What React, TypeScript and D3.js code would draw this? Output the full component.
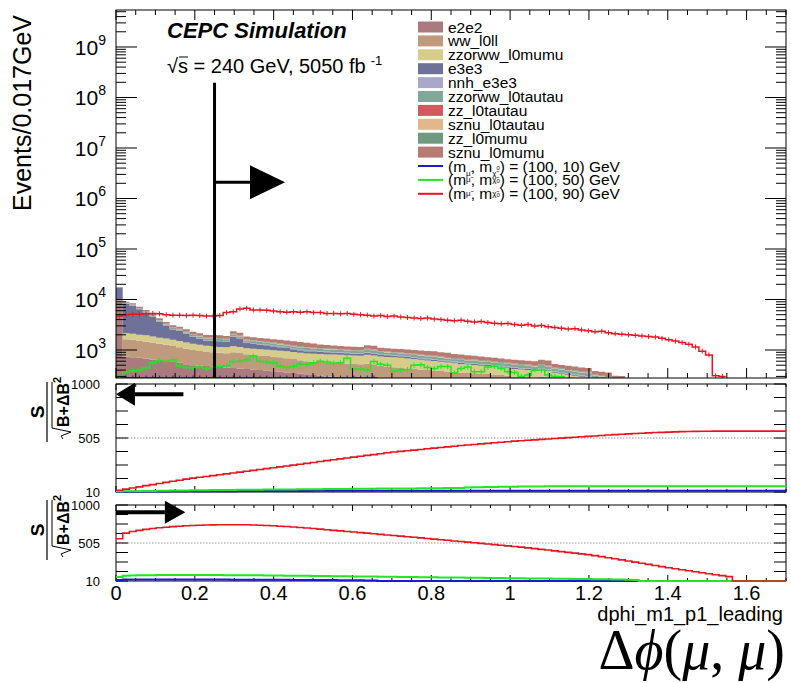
import React from 'react';
import * as d3 from 'd3';

// ---------------- data ----------------
const BIN_WIDTH = 0.017;
const NBINS = 100;
const X_MAX = 1.7;

const bgNames = ['e2e2', 'ww_l0ll', 'zzorww_l0mumu', 'e3e3', 'nnh_e3e3', 'zzorww_l0tautau', 'zz_l0tautau', 'sznu_l0tautau', 'zz_l0mumu', 'sznu_l0mumu'];
const bgColors = ['#a97a7e', '#c09a7c', '#d6cc8c', '#6e7198', '#a9a8c9', '#7fa89a', '#d15a5f', '#e0b889', '#6f9a80', '#b87b71'];

const e2e2 = [8500, 740, 720, 700, 680, 650, 620, 600, 580, 560, 520, 500, 490, 480, 470, 460, 450, 440, 430, 420, 410, 400, 390, 380, 370, 360, 350, 340, 330, 320, 310, 300, 295, 290, 285, 280, 270, 265, 260, 255, 250, 245, 240, 235, 230, 225, 220, 215, 210, 205, 200, 195, 190, 185, 180, 175, 172, 170, 165, 160, 155, 150, 148, 145, 140, 135, 130, 125, 120, 115, 110, 105, 100, 95, 90, 85];
const ww_l0ll = [700, 890, 880, 800, 770, 750, 710, 670, 620, 570, 540, 500, 470, 450, 430, 420, 410, 460, 440, 400, 390, 380, 370, 360, 350, 330, 310, 290, 270, 270, 270, 270, 265, 260, 255, 250, 250, 275, 260, 235, 220, 210, 200, 195, 190, 185, 180, 180, 175, 170, 165, 160, 160, 160, 160, 160, 156, 150, 145, 140, 140, 140, 132, 155, 150, 130, 120, 120, 115, 110, 110, 90, 90, 90, 70, 65];
const zzorww_l0mumu = [300, 510, 500, 500, 500, 450, 420, 410, 400, 370, 340, 330, 310, 290, 280, 270, 270, 290, 280, 260, 260, 260, 255, 250, 250, 250, 250, 250, 250, 255, 250, 245, 250, 255, 250, 245, 250, 265, 260, 255, 255, 260, 260, 250, 240, 230, 220, 210, 200, 190, 180, 170, 165, 160, 150, 145, 140, 130, 125, 120, 115, 110, 105, 110, 100, 90, 85, 80, 75, 70, 70, 60, 60, 55, 50, 45];
const e3e3 = [7500, 5990, 5450, 4400, 3500, 2750, 1850, 1320, 940, 870, 670, 490, 400, 300, 340, 340, 310, 630, 540, 310, 280, 250, 225, 200, 170, 150, 130, 110, 100, 95, 90, 85, 80, 78, 75, 72, 70, 75, 72, 65, 60, 55, 50, 45, 42, 40, 38, 36, 34, 32, 30, 29, 28, 27, 26, 25, 24, 23, 22, 21, 20, 19, 18, 18, 17, 15, 12, 11, 10, 9, 8, 6, 5, 4, 3, 2];
const nnh_e3e3 = [40, 45, 42, 40, 38, 36, 34, 32, 30, 29, 28, 27, 27, 26, 26, 26, 25, 30, 28, 25, 25, 24, 24, 23, 23, 22, 22, 22, 21, 21, 20, 20, 20, 19, 19, 19, 18, 20, 19, 18, 17, 17, 17, 16, 16, 16, 15, 15, 15, 14, 14, 14, 13, 13, 13, 12, 12, 12, 11, 11, 11, 10, 10, 11, 10, 9, 9, 8, 8, 8, 7, 7, 6, 6, 5, 5];
const zzorww_l0tautau = [200, 250, 240, 225, 210, 195, 180, 165, 155, 145, 140, 135, 130, 128, 128, 128, 125, 145, 138, 125, 123, 120, 118, 117, 116, 115, 114, 113, 120, 112, 105, 100, 98, 95, 92, 90, 88, 100, 98, 85, 86, 85, 85, 82, 80, 78, 76, 74, 72, 70, 68, 66, 65, 64, 63, 62, 61, 60, 58, 57, 56, 55, 54, 58, 56, 52, 50, 48, 46, 44, 42, 38, 36, 34, 32, 30];
const zz_l0tautau = [20, 25, 24, 22, 20, 19, 18, 17, 16, 15, 14, 14, 13, 13, 13, 13, 12, 14, 13, 12, 12, 12, 11, 11, 11, 11, 10, 10, 10, 10, 10, 9, 9, 9, 9, 9, 9, 10, 9, 8, 8, 8, 8, 8, 7, 7, 7, 7, 7, 6, 6, 6, 6, 6, 6, 6, 5, 5, 5, 5, 5, 5, 5, 5, 5, 5, 5, 4, 4, 4, 4, 3, 3, 3, 3, 3];
const sznu_l0tautau = [30, 40, 38, 36, 34, 32, 30, 28, 26, 25, 24, 23, 22, 22, 22, 22, 21, 24, 23, 21, 21, 20, 20, 19, 19, 19, 18, 18, 15, 15, 15, 14, 14, 14, 14, 13, 13, 14, 14, 12, 12, 12, 12, 12, 12, 11, 11, 11, 11, 11, 10, 10, 10, 10, 10, 10, 10, 10, 9, 9, 9, 9, 9, 9, 9, 8, 8, 8, 7, 7, 7, 6, 6, 6, 5, 5];
const zz_l0mumu = [70, 90, 86, 82, 78, 74, 70, 66, 62, 58, 56, 54, 52, 50, 50, 50, 48, 55, 52, 48, 47, 46, 45, 44, 43, 42, 41, 40, 30, 30, 29, 29, 28, 28, 27, 27, 26, 30, 28, 25, 25, 25, 25, 24, 24, 23, 23, 22, 22, 22, 21, 21, 20, 20, 20, 20, 20, 20, 19, 19, 18, 18, 18, 19, 18, 16, 15, 15, 14, 14, 13, 12, 12, 11, 10, 10];
const sznu_l0mumu = [300, 450, 420, 395, 370, 345, 320, 290, 270, 260, 240, 230, 225, 220, 220, 220, 230, 250, 240, 225, 225, 225, 225, 230, 235, 240, 245, 250, 250, 220, 180, 178, 170, 155, 145, 155, 155, 185, 190, 145, 145, 143, 150, 160, 155, 165, 170, 170, 155, 160, 135, 140, 130, 125, 115, 105, 105, 100, 100, 98, 100, 100, 100, 110, 115, 70, 70, 70, 70, 70, 70, 55, 52, 55, 42, 55];
const bgSeries = [e2e2, ww_l0ll, zzorww_l0mumu, e3e3, nnh_e3e3, zzorww_l0tautau, zz_l0tautau, sznu_l0tautau, zz_l0mumu, sznu_l0mumu];

// signals (main panel)
const sigBlue = [230, 240, 235, 230, 228, 225, 222, 220, 218, 215, 212, 210, 208, 205, 202, 200, 198, 195, 192, 190, 188, 185, 182, 180, 178, 175, 172, 170, 168, 165, 162, 160, 158, 155, 152, 150, 148, 145, 140];
const sigGreen = [300, 370, 390, 400, 440, 560, 620, 600, 640, 480, 450, 440, 460, 430, 450, 470, 490, 590, 600, 640, 760, 600, 580, 560, 480, 450, 470, 530, 520, 560, 600, 580, 550, 560, 690, 420, 420, 400, 590, 520, 500, 380, 400, 410, 500, 510, 450, 430, 470, 470, 350, 430, 460, 370, 370, 460, 470, 430, 370, 360, 300, 320, 400, 400, 320, 300, 295];
const sigRed = [4700, 5000, 5100, 5100, 5200, 5300, 5200, 5000, 4900, 4900, 4800, 4900, 4800, 4700, 4700, 4800, 5500, 5700, 6500, 6700, 6200, 6200, 6100, 5900, 5700, 5600, 5700, 5600, 5700, 5500, 5500, 5300, 5300, 5200, 5300, 5100, 5000, 4900, 4700, 4800, 4600, 4700, 4500, 4400, 4300, 4200, 4300, 4100, 4000, 3900, 3800, 3900, 3700, 3600, 3650, 3500, 3400, 3300, 3350, 3200, 3100, 3200, 3000, 3050, 2900, 2800, 2700, 2600, 2650, 2500, 2400, 2300, 2350, 2200, 2100, 2050, 2000, 1950, 1900, 1850, 1800, 1700, 1600, 1500, 1400, 1300, 1150, 950, 800, 310, 300];
const sigColors = ['#1a1ad0', '#22e622', '#e8141e'];
const sigLabels = ['(100, 10) GeV', '(100, 50) GeV', '(100, 90) GeV'];

// significance, cut "x < value" (middle panel)
const sigLeftRed = [26, 36, 47, 57, 68, 78, 88, 98, 108, 118, 128, 137, 145, 152, 160, 168, 176, 184, 192, 200, 208, 216, 224, 232, 240, 248, 256, 264, 272, 280, 290, 298, 306, 314, 322, 330, 338, 346, 353, 360, 370, 376, 382, 388, 394, 400, 406, 412, 418, 424, 430, 436, 441, 446, 451, 456, 461, 466, 471, 476, 480, 484, 488, 492, 496, 500, 504, 508, 512, 516, 520, 524, 528, 532, 536, 540, 543, 546, 549, 552, 555, 557, 559, 561, 563, 565, 566, 567, 567, 568, 568, 568, 568, 568, 568, 568, 568, 568, 568, 568];
const sigLeftGreen = [14, 16, 17, 18, 19, 20, 21, 22, 23, 24, 24, 25, 26, 27, 28, 28, 29, 29, 30, 30, 31, 31, 32, 32, 33, 34, 34, 35, 35, 36, 36, 37, 37, 38, 38, 39, 39, 40, 40, 41, 41, 42, 42, 43, 43, 44, 44, 45, 45, 46, 46, 47, 52, 53, 54, 55, 56, 57, 58, 59, 60, 60, 61, 61, 62, 62, 62, 62, 63, 63, 63, 63, 63, 63, 63, 63, 63, 63, 63, 63, 63, 63, 63, 63, 63, 63, 63, 63, 63, 63, 63, 63, 63, 63, 63, 63, 63, 63, 63, 63];
const sigLeftBlue = [11, 12, 13, 13, 14, 14, 15, 15, 16, 16, 16, 17, 17, 17, 18, 18, 18, 18, 19, 19, 19, 19, 19, 20, 20, 20, 20, 20, 20, 21, 21, 21, 21, 21, 21, 21, 21, 21, 21, 21, 21, 21, 21, 21, 21, 21, 21, 21, 21, 21, 21, 21, 21, 21, 21, 21, 21, 21, 21, 21, 21, 21, 21, 21, 21, 21, 21, 21, 21, 21, 21, 21, 21, 21, 21, 21, 21, 21, 21, 21, 21, 21, 21, 21, 21, 21, 21, 21, 21, 21, 21, 21, 21, 21, 21, 21, 21, 21, 21, 21];

// significance, cut "x > value" (bottom panel)
const sigRightRed = [561, 634, 655, 670, 683, 694, 703, 711, 718, 724, 729, 733, 736, 739, 741, 742, 743, 743, 743, 742, 740, 737, 733, 729, 724, 719, 713, 707, 700, 693, 686, 678, 670, 663, 655, 648, 640, 633, 625, 618, 610, 603, 595, 587, 580, 572, 564, 556, 548, 540, 532, 524, 516, 508, 500, 492, 484, 476, 468, 460, 451, 442, 432, 422, 413, 403, 393, 383, 373, 363, 353, 340, 327, 313, 299, 285, 271, 256, 241, 226, 211, 197, 183, 170, 157, 144, 131, 118, 105, 92, 80, 67, 0, 0, 0, 0, 0, 0, 0, 0];
const sigRightGreen = [62, 80, 82, 84, 85, 86, 87, 88, 88, 88, 88, 88, 88, 88, 87, 87, 86, 86, 85, 85, 84, 84, 83, 82, 81, 80, 79, 78, 77, 76, 75, 74, 73, 72, 71, 70, 69, 68, 67, 66, 65, 64, 63, 62, 61, 60, 59, 58, 57, 56, 55, 54, 53, 52, 51, 50, 49, 48, 47, 46, 45, 44, 43, 42, 41, 40, 39, 38, 37, 36, 35, 34, 33, 32, 30, 28, 26, 24, 0, 0, 0, 0, 0, 0, 0, 0, 0, 0, 0, 0, 0, 0, 0, 0, 0, 0, 0, 0, 0, 0];
const sigRightBlue = [24, 28, 30, 31, 31, 31, 31, 31, 30, 30, 30, 29, 29, 29, 28, 28, 28, 27, 27, 27, 26, 26, 26, 25, 25, 25, 24, 24, 24, 23, 23, 22, 22, 21, 21, 20, 19, 18, 16, 0, 0, 0, 0, 0, 0, 0, 0, 0, 0, 0, 0, 0, 0, 0, 0, 0, 0, 0, 0, 0, 0, 0, 0, 0, 0, 0, 0, 0, 0, 0, 0, 0, 0, 0, 0, 0, 0, 0, 0, 0, 0, 0, 0, 0, 0, 0, 0, 0, 0, 0, 0, 0, 0, 0, 0, 0, 0, 0, 0, 0];

const xTickValues = [0, 0.2, 0.4, 0.6, 0.8, 1, 1.2, 1.4, 1.6];
const yTickExponents = [3, 4, 5, 6, 7, 8, 9];
const ratioTickLabels = [10, 505, 1000];
const CUT = 0.25;

// ---------------- layout ----------------
const W = 791, H = 683;
const L = 116, R = 786;
const MAIN = { top: 10, bottom: 378 };
const R1 = { top: 384, bottom: 492 };
const R2 = { top: 505, bottom: 581 };
const FONT = "'Liberation Sans', Arial, Helvetica, sans-serif";

const x = d3.scaleLinear().domain([0, X_MAX]).range([L, R]);
const yMain = d3.scaleLog().domain([279, 5.4e9]).range([MAIN.bottom, MAIN.top]).clamp(true);
const yR1 = d3.scaleLinear().domain([10, 1000]).range([R1.bottom, R1.top]).clamp(true);
const yR2 = d3.scaleLinear().domain([10, 1000]).range([R2.bottom, R2.top]).clamp(true);

function stepPoints(vals: number[], nb: number): [number, number][] {
  const pts: [number, number][] = [];
  for (let i = 0; i < nb; i++) pts.push([i * BIN_WIDTH, vals[i] ?? 0]);
  pts.push([nb * BIN_WIDTH, vals[nb - 1] ?? 0]);
  return pts;
}

function XTicks({ top, bottom, major, minor }: { top: number; bottom: number; major: number; minor: number }) {
  const minors = d3.range(0, X_MAX + 1e-6, 0.05);
  return (
    <g stroke="#000" strokeWidth={1}>
      {minors.map((v, i) => {
        const isMajor = Math.abs(v / 0.2 - Math.round(v / 0.2)) < 1e-6;
        const len = isMajor ? major : minor;
        const xp = x(v);
        return (
          <g key={i}>
            <line x1={xp} x2={xp} y1={bottom} y2={bottom - len} />
            <line x1={xp} x2={xp} y1={top} y2={top + len} />
          </g>
        );
      })}
    </g>
  );
}

function RatioLabel({ yc }: { yc: number }) {
  return (
    <g transform={`translate(47,${yc}) rotate(-90)`} fontFamily={FONT} fontWeight="bold">
      <text x={0} y={-3} textAnchor="middle" fontSize={19}>S</text>
      <line x1={-30} x2={30} y1={0} y2={0} stroke="#000" strokeWidth={1.2} />
      <path d="M -27 16 L -24 14 L -20 24 L -16 5 L 30 5" fill="none" stroke="#000" strokeWidth={1} />
      <text x={-15} y={22} fontSize={16}>
        B+ΔB<tspan fontSize={11} dy={-8}>2</tspan>
      </text>
    </g>
  );
}

function RatioPanel({ top, bottom, y, red, green, blue, arrowDir, clipId }: any) {
  const line = d3.line<[number, number]>().x(d => x(d[0])).y(d => y(d[1])).curve(d3.curveStepAfter);
  const ticks = d3.range(0, 9).map(k => 10 + k * 123.75);
  const arrowY = y(905);
  let arrow;
  if (arrowDir === 'left') {
    const tip = x(0), base = x(0.048), end = x(0.171);
    arrow = (
      <g>
        <line x1={base} x2={end} y1={arrowY} y2={arrowY} stroke="#000" strokeWidth={4} />
        <path d={`M ${tip} ${arrowY} L ${base} ${arrowY - 11.5} L ${base} ${arrowY + 11.5} Z`} fill="#000" />
      </g>
    );
  } else {
    const start = x(0), base = x(0.124), tip = x(0.176);
    arrow = (
      <g>
        <line x1={start} x2={base} y1={arrowY} y2={arrowY} stroke="#000" strokeWidth={4} />
        <path d={`M ${tip} ${arrowY} L ${base} ${arrowY - 11.5} L ${base} ${arrowY + 11.5} Z`} fill="#000" />
      </g>
    );
  }
  return (
    <g>
      <rect x={L} y={top} width={R - L} height={bottom - top} fill="#fff" />
      <line x1={L} x2={R} y1={y(505)} y2={y(505)} stroke="#999" strokeWidth={1} strokeDasharray="1.5,1.5" />
      <g stroke="#000" strokeWidth={1}>
        {ticks.map((t, i) => (
          <g key={i}>
            <line x1={L} x2={L + 12} y1={y(t)} y2={y(t)} />
            <line x1={R} x2={R - 12} y1={y(t)} y2={y(t)} />
          </g>
        ))}
      </g>
      <XTicks top={top} bottom={bottom} major={6} minor={3} />
      <rect x={L} y={top} width={R - L} height={bottom - top} fill="none" stroke="#000" strokeWidth={1} />
      <g clipPath={`url(#${clipId})`}>
        <path d={line(stepPoints(blue, NBINS)) || ''} fill="none" stroke={sigColors[0]} strokeWidth={2} />
        <path d={line(stepPoints(green, NBINS)) || ''} fill="none" stroke={sigColors[1]} strokeWidth={2} />
        <path d={line(stepPoints(red, NBINS)) || ''} fill="none" stroke={sigColors[2]} strokeWidth={1.6} />
      </g>
      {arrow}
      {ratioTickLabels.map((t, i) => (
        <text key={i} x={100} y={y(t) + 4.5} textAnchor="end" fontSize={13} fontFamily={FONT}>{t}</text>
      ))}
    </g>
  );
}

export default function App() {
  // stacked backgrounds
  const rows = d3.range(NBINS).map(i => {
    const r: any = {};
    bgNames.forEach((n, k) => { r[n] = bgSeries[k][i] ?? 0; });
    return r;
  });
  const stacked = d3.stack<any>().keys(bgNames)(rows);
  const area = d3.area<any>()
    .x(d => x(d.x))
    .y0(d => yMain(d.y0))
    .y1(d => yMain(d.y1))
    .curve(d3.curveStepAfter);
  const layerPaths = stacked.map((layer, k) => {
    const pts = layer.map((d, i) => ({ x: i * BIN_WIDTH, y0: d[0], y1: d[1] }));
    const last = pts[pts.length - 1];
    pts.push({ x: NBINS * BIN_WIDTH, y0: last.y0, y1: last.y1 });
    return <path key={k} d={area(pts) || ''} fill={bgColors[k]} stroke="none" />;
  });

  const mainLine = d3.line<[number, number]>().x(d => x(d[0])).y(d => yMain(d[1])).curve(d3.curveStepAfter);
  const sigs = [sigBlue, sigGreen, sigRed];
  const sigPaths = sigs.map((s, k) => (
    <g key={k}>
      <path d={mainLine(stepPoints(s, s.length)) || ''} fill="none" stroke={sigColors[k]} strokeWidth={1.5} />
      {s.map((v, i) => {
        const xc = x((i + 0.5) * BIN_WIDTH);
        const yc = yMain(v);
        return <line key={i} x1={xc} x2={xc} y1={yc - 2.5} y2={yc + 2.5} stroke={sigColors[k]} strokeWidth={1} />;
      })}
    </g>
  ));

  // y ticks (log)
  const yTicks: { v: number; major: boolean }[] = [];
  for (let e = 2; e <= 9; e++) {
    for (let m = 1; m <= 9; m++) {
      const v = m * Math.pow(10, e);
      if (v >= 279 && v <= 5.4e9) yTicks.push({ v, major: m === 1 });
    }
  }

  const cutX = x(CUT);
  const arrowY = yMain(2.1e6);
  const headBase = x(0.34), headTip = x(0.429);

  const legendY0 = 27, legendDy = 13.9;

  return (
    <svg width={W} height={H} style={{ position: 'absolute', left: 0, top: 0, background: '#fff' }} fontFamily={FONT}>
      <defs>
        <clipPath id="clipMain"><rect x={L} y={MAIN.top} width={R - L} height={MAIN.bottom - MAIN.top} /></clipPath>
        <clipPath id="clipR1"><rect x={L} y={R1.top} width={R - L} height={R1.bottom - R1.top + 1.5} /></clipPath>
        <clipPath id="clipR2"><rect x={L} y={R2.top} width={R - L} height={R2.bottom - R2.top + 1.5} /></clipPath>
      </defs>
      <rect x={0} y={0} width={W} height={H} fill="#fff" />

      {/* main panel */}
      <g clipPath="url(#clipMain)">
        {layerPaths}
        {sigPaths}
      </g>
      {/* cut line and arrow */}
      <line x1={cutX} x2={cutX} y1={yMain(1.95e8)} y2={MAIN.bottom} stroke="#000" strokeWidth={3} />
      <line x1={cutX} x2={headBase} y1={arrowY} y2={arrowY} stroke="#000" strokeWidth={3} />
      <path d={`M ${headTip} ${arrowY} L ${headBase} ${arrowY - 17} L ${headBase} ${arrowY + 17} Z`} fill="#000" />

      {/* main axes */}
      <g stroke="#000" strokeWidth={1}>
        {yTicks.map((t, i) => {
          const len = t.major ? 21 : 10;
          const yp = yMain(t.v);
          return (
            <g key={i}>
              <line x1={L} x2={L + len} y1={yp} y2={yp} />
              <line x1={R} x2={R - len} y1={yp} y2={yp} />
            </g>
          );
        })}
      </g>
      <XTicks top={MAIN.top} bottom={MAIN.bottom} major={10} minor={5} />
      <rect x={L} y={MAIN.top} width={R - L} height={MAIN.bottom - MAIN.top} fill="none" stroke="#000" strokeWidth={1} />
      {yTickExponents.map(e => (
        <text key={e} x={106} y={yMain(Math.pow(10, e)) + 8} textAnchor="end" fontSize={21}>
          10<tspan fontSize={14} dy={-10}>{e}</tspan>
        </text>
      ))}
      <text transform={`translate(31,113) rotate(-90)`} textAnchor="middle" fontSize={25}>Events/0.017GeV</text>

      {/* titles */}
      <text x={167} y={38} fontSize={22} fontWeight="bold" fontStyle="italic">CEPC Simulation</text>
      <text x={167} y={73} fontSize={20}>
        √s = 240 GeV, 5050 fb<tspan fontSize={13} dx={5} dy={-8}>-1</tspan>
      </text>
      <line x1={179} x2={188} y1={57} y2={57} stroke="#000" strokeWidth={1} />

      {/* legend */}
      <g fontSize={15.5}>
        {bgNames.map((n, k) => {
          const yc = legendY0 + k * legendDy;
          return (
            <g key={n}>
              <rect x={418} y={yc - 5.5} width={25} height={11} fill={bgColors[k]} />
              <text x={448} y={yc + 5.5}>{n}</text>
            </g>
          );
        })}
        {sigLabels.map((lab, k) => {
          const yc = legendY0 + (bgNames.length + k) * legendDy;
          const sub = k === 0;
          return (
            <g key={lab}>
              <line x1={418} x2={443} y1={yc} y2={yc} stroke={sigColors[k]} strokeWidth={2} />
              <text x={448} y={yc + 5.5}>
                (m<tspan fontSize={8} dy={sub ? 4 : -3}>μ̃</tspan>
                <tspan dy={sub ? -4 : 3}>, m</tspan>
                <tspan fontSize={8} dy={sub ? 4 : -3}>χ̃</tspan>
                <tspan fontSize={6} dy={sub ? -6 : 1}>0</tspan>
                <tspan dy={sub ? 2 : 2}>) = {lab}</tspan>
              </text>
            </g>
          );
        })}
      </g>

      {/* ratio panels */}
      <RatioPanel top={R1.top} bottom={R1.bottom} y={yR1} red={sigLeftRed} green={sigLeftGreen} blue={sigLeftBlue} arrowDir="left" clipId="clipR1" />
      <RatioPanel top={R2.top} bottom={R2.bottom} y={yR2} red={sigRightRed} green={sigRightGreen} blue={sigRightBlue} arrowDir="right" clipId="clipR2" />
      <RatioLabel yc={412} />
      <RatioLabel yc={530} />

      {/* x axis labels */}
      {xTickValues.map(v => (
        <text key={v} x={x(v)} y={600} textAnchor="middle" fontSize={20}>{`${v}`}</text>
      ))}
      <text x={783} y={621} textAnchor="end" fontSize={20}>dphi_m1_p1_leading</text>
      <text x={785} y={669} textAnchor="end" fontSize={56} fontFamily="'Liberation Serif', 'DejaVu Serif', serif">
        Δ<tspan fontStyle="italic">ϕ</tspan>(<tspan fontStyle="italic">μ</tspan>, <tspan fontStyle="italic">μ</tspan>)
      </text>
    </svg>
  );
}
